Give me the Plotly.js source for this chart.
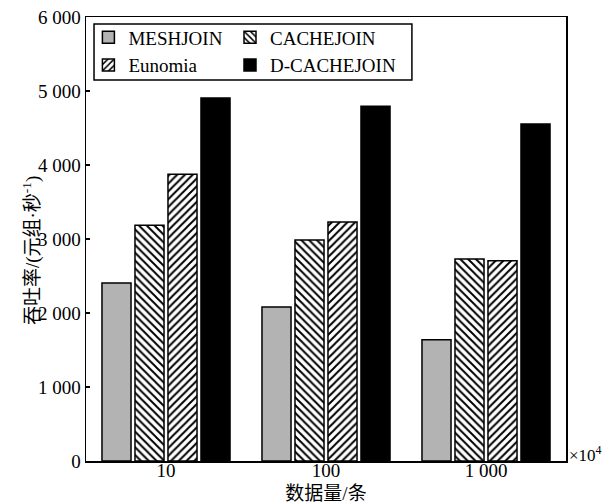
<!DOCTYPE html>
<html><head><meta charset="utf-8">
<script src="https://cdn.plot.ly/plotly-3.0.1.min.js"></script>
<style>html,body{margin:0;padding:0;background:#fff}</style>
</head><body>
<div id="chart" style="width:603px;height:504px"></div>
<script>
var categories = ['10', '100', '1 000'];
var meshjoin = [2405, 2080, 1640];
var cachejoin = [3185, 2985, 2730];
var eunomia = [3875, 3230, 2705];
var dcachejoin = [4905, 4795, 4555];
var yTickVals = [0, 1000, 2000, 3000, 4000, 5000, 6000];
var yTickText = ['0', '1 000', '2 000', '3 000', '4 000', '5 000', '6 000'];

var serif = 'Liberation Serif';
var cjk = 'Liberation Serif, Noto Sans CJK SC';
var lineSpec = {color: '#000', width: 1.5};
var traces = [
  {type: 'bar', name: 'MESHJOIN', x: categories, y: meshjoin, legend: 'legend',
   marker: {color: '#b3b3b3', line: lineSpec}},
  {type: 'bar', name: 'CACHEJOIN', x: categories, y: cachejoin, legend: 'legend2',
   marker: {color: '#fff', line: lineSpec, pattern: {shape: '\\', fgcolor: '#000', bgcolor: '#fff', size: 5.5, solidity: 0.35}}},
  {type: 'bar', name: 'Eunomia', x: categories, y: eunomia, legend: 'legend',
   marker: {color: '#fff', line: lineSpec, pattern: {shape: '/', fgcolor: '#000', bgcolor: '#fff', size: 5.5, solidity: 0.35}}},
  {type: 'bar', name: 'D-CACHEJOIN', x: categories, y: dcachejoin, legend: 'legend2',
   marker: {color: '#000', line: lineSpec}}
];

function mkLegend(x) {
  return {
    orientation: 'v', bgcolor: 'rgba(0,0,0,0)', borderwidth: 0,
    font: {family: serif, size: 19, color: '#000'},
    yanchor: 'top', y: 0.997, xanchor: 'left', x: x, tracegroupgap: 0, itemwidth: 30
  };
}

var layout = {
  width: 603, height: 504,
  margin: {l: 86, r: 37, t: 17, b: 43},
  paper_bgcolor: '#fff', plot_bgcolor: '#fff',
  font: {family: serif, size: 19, color: '#000'},
  barmode: 'group', bargap: 0.175, bargroupgap: 0.12,
  showlegend: true,
  legend: mkLegend(0.005),
  legend2: mkLegend(0.3),
  xaxis: {
    type: 'category', range: [-0.5, 2.5],
    showline: true, linecolor: '#000', linewidth: 1.5, mirror: true,
    ticks: '', showgrid: false, zeroline: false,
    ticklabelstandoff: -8,
    tickfont: {family: serif, size: 19, color: '#000'},
    title: {text: '数据量/条', font: {family: cjk, size: 19, color: '#000'}, standoff: 8}
  },
  yaxis: {
    range: [0, 6000],
    tickvals: yTickVals, ticktext: yTickText,
    showline: true, linecolor: '#000', linewidth: 1.5, mirror: true,
    ticks: 'inside', ticklen: 4, tickwidth: 1.2, tickcolor: '#000',
    showgrid: false, zeroline: false,
    tickfont: {family: serif, size: 19, color: '#000'}
  },
  shapes: [{
    type: 'rect', xref: 'paper', yref: 'paper',
    x0: 0.0167, x1: 0.679, y0: 0.858, y1: 0.984,
    line: {color: '#000', width: 1.5}, fillcolor: 'rgba(0,0,0,0)'
  }],
  annotations: [{
    xref: 'paper', yref: 'paper', x: 1.003, y: 0.015, xanchor: 'left', yanchor: 'middle',
    text: '×10<sup>4</sup>', showarrow: false,
    font: {family: serif, size: 17, color: '#000'}
  }, {
    xref: 'paper', yref: 'paper', x: -0.1146, y: 0.475, xanchor: 'center', yanchor: 'middle',
    textangle: -90, showarrow: false,
    text: '吞吐率/(元组·秒<sup>-1</sup>)',
    font: {family: cjk, size: 19, color: '#000'}
  }]
};

Plotly.newPlot('chart', traces, layout, {staticPlot: true, displayModeBar: false});
</script>
</body></html>
